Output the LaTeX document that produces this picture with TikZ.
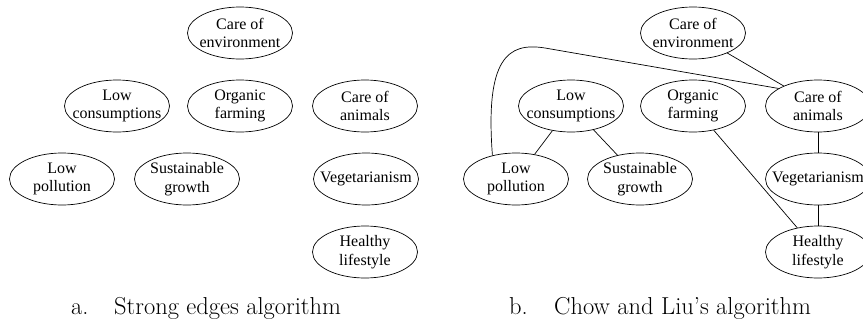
\documentclass[tikz,border=0pt]{standalone}
\usepackage{fontspec}
\usetikzlibrary{shapes.geometric}
\newfontfamily\nodefont{Liberation Serif}
\begin{document}
\begin{tikzpicture}[x=1pt,y=-1pt,
  ell/.style={draw,ellipse,minimum width=105pt,minimum height=52pt,inner sep=0pt,line width=0.7pt},
  txt/.style={align=center,inner sep=0pt,font=\nodefont\fontsize{16}{18.5}\selectfont},
  captext/.style={anchor=base west,inner sep=0pt,font=\fontsize{24.5}{28}\selectfont},
  conn/.style={line width=0.7pt}]
\useasboundingbox (0,0) rectangle (863,322);
% ---- panel a ----
\node[ell] (ace) at (240,33) {};
\node[txt] (acet) at (ace) {Care of\\environment};
\node[ell] (alc) at (117,106) {};
\node[txt] (alct) at (alc) {Low\\consumptions};
\node[ell] (aof) at (240,106) {};
\node[txt] (aoft) at (aof) {Organic\\farming};
\node[ell] (aca) at (365,106) {};
\node[txt] (acat) at (aca) {Care of\\animals};
\node[ell] (alp) at (62,179) {};
\node[txt] (alpt) at (alp) {Low\\pollution};
\node[ell] (asg) at (187,179) {};
\node[txt] (asgt) at (asg) {Sustainable\\growth};
\node[ell] (aveg) at (366,179) {};
\node[txt] (avegt) at (aveg) {Vegetarianism};
\node[ell] (ahl) at (365,252) {};
\node[txt] (ahlt) at (ahl) {Healthy\\lifestyle};
\node[captext] (capa1) at (71,314) {a.};
\node[captext] (capa2) at (114,314) {Strong edges algorithm};
% ---- panel b ----
\node[ell] (bce) at (693,33) {};
\node[txt] (bcet) at (bce) {Care of\\environment};
\node[ell] (blc) at (571,106) {};
\node[txt] (blct) at (blc) {Low\\consumptions};
\node[ell] (bof) at (693,106) {};
\node[txt] (boft) at (bof) {Organic\\farming};
\node[ell] (bca) at (818,106) {};
\node[txt] (bcat) at (bca) {Care of\\animals};
\node[ell] (blp) at (516,179) {};
\node[txt] (blpt) at (blp) {Low\\pollution};
\node[ell] (bsg) at (640,179) {};
\node[txt] (bsgt) at (bsg) {Sustainable\\growth};
\node[ell] (bveg) at (818,179) {};
\node[txt] (bvegt) at (bveg) {Vegetarianism};
\node[ell] (bhl) at (818,252) {};
\node[txt] (bhlt) at (bhl) {Healthy\\lifestyle};
\node[captext] (capb1) at (509,314) {b.};
\node[captext] (capb2) at (554,314) {Chow and Liu's algorithm};
\coordinate (bend) at (545,48);
\draw[conn] (bce) -- (bca);
\draw[conn] (blc) -- (blp);
\draw[conn] (blc) -- (bsg);
\draw[conn] (bof) -- (bhl);
\draw[conn] (bca) -- (bveg);
\draw[conn] (bveg) -- (bhl);
\draw[conn] (blp.135) .. controls (485,58) and (508,42) .. (bend) -- (bca.156);
\end{tikzpicture}
\end{document}
